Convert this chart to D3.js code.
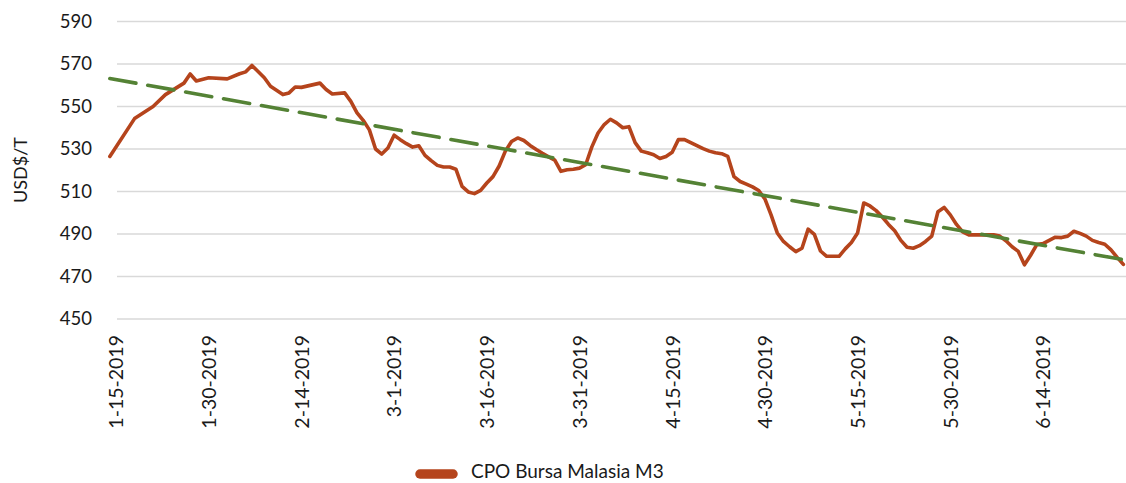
<!DOCTYPE html>
<html>
<head>
<meta charset="utf-8">
<script src="https://cdn.jsdelivr.net/npm/d3@7"></script>
<style>
  html, body { margin: 0; padding: 0; background: #fff; }
  svg { display: block; font-family: Lato, "Open Sans", sans-serif; }
</style>
</head>
<body>
<svg id="chart" width="1126" height="483"></svg>
<script>
// ---- data ----
const seriesName = "CPO Bursa Malasia M3";
const yTitle = "USD$/T";
const dates = [
  "2019-01-14","2019-01-18","2019-01-21","2019-01-23","2019-01-26","2019-01-27","2019-01-28","2019-01-30",
  "2019-02-02","2019-02-04","2019-02-05","2019-02-06","2019-02-08","2019-02-09","2019-02-11","2019-02-12",
  "2019-02-13","2019-02-14","2019-02-17","2019-02-18","2019-02-19","2019-02-21","2019-02-22","2019-02-23",
  "2019-02-24","2019-02-25","2019-02-26","2019-02-27","2019-02-28",
  "2019-03-01","2019-03-02","2019-03-03","2019-03-04","2019-03-05","2019-03-06","2019-03-07","2019-03-08",
  "2019-03-09","2019-03-10","2019-03-11","2019-03-12","2019-03-13","2019-03-14","2019-03-15","2019-03-16",
  "2019-03-17","2019-03-18","2019-03-19","2019-03-20","2019-03-21","2019-03-22","2019-03-23","2019-03-24",
  "2019-03-25","2019-03-26","2019-03-27","2019-03-28","2019-03-29","2019-03-30","2019-03-31",
  "2019-04-01","2019-04-02","2019-04-03","2019-04-04","2019-04-05","2019-04-06","2019-04-07","2019-04-08",
  "2019-04-09","2019-04-10","2019-04-11","2019-04-12","2019-04-13","2019-04-14","2019-04-15","2019-04-16",
  "2019-04-17","2019-04-18","2019-04-19","2019-04-20","2019-04-21","2019-04-22","2019-04-23","2019-04-24",
  "2019-04-25","2019-04-26","2019-04-27","2019-04-28","2019-04-29","2019-04-30",
  "2019-05-01","2019-05-02","2019-05-03","2019-05-04","2019-05-05","2019-05-06","2019-05-07","2019-05-08",
  "2019-05-09","2019-05-10","2019-05-11","2019-05-12","2019-05-13","2019-05-14","2019-05-15","2019-05-16",
  "2019-05-17","2019-05-18","2019-05-19","2019-05-20","2019-05-21","2019-05-22","2019-05-23","2019-05-24",
  "2019-05-25","2019-05-26","2019-05-27","2019-05-28","2019-05-29","2019-05-30","2019-05-31",
  "2019-06-01","2019-06-02","2019-06-03","2019-06-04","2019-06-05","2019-06-06","2019-06-07","2019-06-08",
  "2019-06-09","2019-06-10","2019-06-11","2019-06-12","2019-06-13","2019-06-14","2019-06-15","2019-06-16",
  "2019-06-17","2019-06-18","2019-06-19","2019-06-20","2019-06-21","2019-06-22","2019-06-23","2019-06-24",
  "2019-06-25","2019-06-26","2019-06-27"
];
const prices = [
  526.5,544.3,550,555.6,561,565.3,562,563.5,
  563,565.4,566.3,569.3,563.5,559.5,555.6,556.4,
  559.2,559,561,558,555.9,556.4,552.4,547,
  543.5,539,530,527.6,530.5,
  536.5,534.4,532.5,530.9,531.5,527,524.5,522.3,
  521.5,521.5,520.5,512.4,509.8,509,510.5,514,
  517,522,529,533.5,535.2,534,531.7,529.8,
  528,526.3,524.8,519.5,520.2,520.5,521,
  522.6,531,537.5,541.5,544,542.3,540,540.5,
  533,529,528.2,527.3,525.5,526.5,528.5,534.4,
  534.4,533,531.6,530.2,529,528.2,527.8,526.5,
  517,514.7,513.5,512.2,510.5,506.5,
  499,490.5,486.5,484,481.7,483.3,492.3,489.8,
  482,479.5,479.5,479.5,483,486,490.5,504.6,
  503.2,501,498,494.5,491.5,487,483.8,483.3,
  484.5,486.5,489,500.5,502.5,499,494.5,
  491,489.6,489.6,489.6,489.6,489.6,489,486.8,
  484,481.8,475.5,480,485,485.5,487,488.5,
  488.3,489,491.3,490.3,489,487,486,485.2,
  482.5,479,475.7
];
// linear trend line (end points)
const trendDates = ["2019-01-14", "2019-06-27"];
const trendValues = [563.2, 477.9];
const xTickDates = ["2019-01-15","2019-01-30","2019-02-14","2019-03-01","2019-03-16","2019-03-31",
                    "2019-04-15","2019-04-30","2019-05-15","2019-05-30","2019-06-14"];
const xTickLabels = ["1-15-2019","1-30-2019","2-14-2019","3-1-2019","3-16-2019","3-31-2019",
                     "4-15-2019","4-30-2019","5-15-2019","5-30-2019","6-14-2019"];
const yTicks = [450, 470, 490, 510, 530, 550, 570, 590];

// ---- drawing ----
const parse = d3.utcParse("%Y-%m-%d");
const svg = d3.select("#chart");
const gridLeft = 117, gridRight = 1126;

const x = d3.scaleUtc()
  .domain([parse("2019-01-15"), parse("2019-06-14")])
  .range([116, 1043]);
const y = d3.scaleLinear().domain([450, 590]).range([319, 21.5]);

// grid
svg.append("g").selectAll("line").data(yTicks).join("line")
  .attr("x1", gridLeft).attr("x2", gridRight)
  .attr("y1", d => y(d)).attr("y2", d => y(d))
  .attr("stroke", "#d9d9d9").attr("stroke-width", 1.5);

// y axis
const yAxis = svg.append("g").attr("transform", `translate(${gridLeft},0)`)
  .call(d3.axisLeft(y).tickValues(yTicks).tickSize(0).tickPadding(25).tickFormat(d3.format("d")));
yAxis.select(".domain").remove();
yAxis.selectAll("text").attr("font-size", 18.5).attr("fill", "#1a1a1a")
  .attr("font-family", "Lato, sans-serif");

// x axis
const xAxis = svg.append("g").attr("transform", `translate(0,${y(450)})`)
  .call(d3.axisBottom(x).tickValues(xTickDates.map(parse)).tickSize(0)
    .tickFormat((d, i) => xTickLabels[i]));
xAxis.select(".domain").remove();
xAxis.selectAll("text")
  .attr("font-size", 19.5).attr("fill", "#1a1a1a").attr("font-family", "Lato, sans-serif")
  .attr("text-anchor", "end")
  .attr("transform", "rotate(-90)")
  .attr("x", -16).attr("y", 0).attr("dy", "0.35em");

// y title
svg.append("text")
  .attr("transform", "translate(27,170) rotate(-90)")
  .attr("text-anchor", "middle")
  .attr("font-size", 18).attr("fill", "#1a1a1a")
  .text(yTitle);

// price line
const data = dates.map((d, i) => ({ date: parse(d), value: prices[i] }));
const line = d3.line().x(d => x(d.date)).y(d => y(d.value));
svg.append("path").datum(data)
  .attr("d", line)
  .attr("fill", "none").attr("stroke", "#b5441c").attr("stroke-width", 3.6)
  .attr("stroke-linejoin", "round").attr("stroke-linecap", "round");

// trend line
const trend = trendDates.map((d, i) => ({ date: parse(d), value: trendValues[i] }));
svg.append("path").datum(trend)
  .attr("d", line)
  .attr("fill", "none").attr("stroke", "#548235").attr("stroke-width", 3.6)
  .attr("stroke-dasharray", "26.5 12").attr("stroke-linecap", "round");

// legend
const lg = svg.append("g");
lg.append("line").attr("x1", 420).attr("x2", 453).attr("y1", 474).attr("y2", 474)
  .attr("stroke", "#b5441c").attr("stroke-width", 9.5).attr("stroke-linecap", "round");
lg.append("text").attr("x", 471).attr("y", 478)
  .attr("font-size", 19).attr("fill", "#1a1a1a")
  .text(seriesName);
</script>
</body>
</html>
